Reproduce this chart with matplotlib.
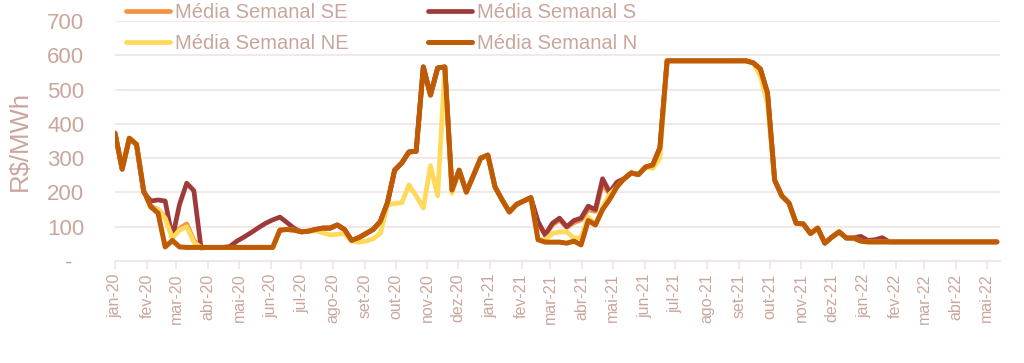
import matplotlib.pyplot as plt
from pandas import date_range, Timestamp

# weekly averages (R$/MWh), one value per week from 2020-01-01
weeks = date_range("2020-01-01", periods=124, freq="7D")

media_se = ([373, 268, 358, 340, 205, 160, 150, 128, 72, 95, 108, 60]
            + [39.68] * 11
            + [90, 92, 90, 85, 87, 92, 96, 96, 105, 92,
               60, 68, 80, 92, 115, 170, 265, 286, 318, 320,
               566, 484, 563, 566, 207, 265, 201, 250, 300, 309,
               216, 178, 143, 165, 175, 185]
            + [110, 75, 105, 120, 98, 112, 120, 150, 145, 225, 195, 225, 238]
            + [257, 252, 274, 280, 330]
            + [583.88] * 12
            + [578, 560, 490, 236, 190, 169, 110, 108, 80, 96,
               52, 70, 85, 67, 67, 58]
            + [55.70] * 19)

media_s = ([373, 268, 358, 340, 200, 175, 178, 175, 67, 165, 227, 205, 38]
           + [39.68] * 3
           + [42, 58, 70, 83, 97, 110, 120, 128, 112, 95]
           + [85, 87, 92, 96, 96, 105, 92, 60, 68, 80,
              92, 115, 170, 265, 286, 318, 320, 566, 484, 563,
              566, 207, 265, 201, 250, 300, 309, 216, 178, 143,
              165, 175, 185]
           + [115, 76, 110, 125, 100, 118, 125, 160, 150, 240, 200, 230, 240]
           + [257, 252, 274, 280, 330]
           + [583.88] * 12
           + [578, 560, 490, 236, 190, 169, 110, 108, 80, 96,
              52, 70, 85, 67, 67]
           + [72, 60, 62, 68]
           + [55.70] * 16)

media_ne = ([373, 268, 358, 340, 205, 155, 150, 125, 67, 90, 100, 55]
            + [39.68] * 11
            + [90, 92, 90, 85, 87]
            + [88, 82, 76, 78, 80, 58, 55, 58, 65, 80,
               163, 168, 170, 222, 190, 155, 278, 190, 566, 198]
            + [265, 201, 250, 300, 309, 216, 178, 143, 165, 175, 185]
            + [62, 62, 80, 85, 85, 67, 68, 128, 105, 157, 195]
            + [216, 240, 257, 252, 274, 270, 300]
            + [583.88] * 12
            + [578, 540, 460, 236, 190, 169, 110, 108, 80, 96,
               52, 70, 85, 67, 67, 58]
            + [55.70] * 19)

media_n = ([373, 268, 358, 340, 205, 158, 140, 41, 60, 41]
           + [39.68] * 13
           + [90, 92, 90, 85, 87, 92, 96, 96, 105, 92,
              60, 68, 80, 92, 115, 170, 265, 286, 318, 320,
              566, 484, 563, 566, 207, 265, 201, 250, 300, 309,
              216, 178, 143, 165, 175, 185, 62, 55, 55, 55,
              52, 58, 47, 118, 105, 150, 180, 216, 240, 257,
              252, 274, 280, 330]
           + [583.88] * 12
           + [578, 560, 490, 236, 190, 169, 110, 108, 80, 96,
              52, 70, 85, 67, 67, 58]
           + [55.70] * 19)

month_labels = ["jan-20", "fev-20", "mar-20", "abr-20", "mai-20", "jun-20",
                "jul-20", "ago-20", "set-20", "out-20", "nov-20", "dez-20",
                "jan-21", "fev-21", "mar-21", "abr-21", "mai-21", "jun-21",
                "jul-21", "ago-21", "set-21", "out-21", "nov-21", "dez-21",
                "jan-22", "fev-22", "mar-22", "abr-22", "mai-22"]
y_ticks = [0, 100, 200, 300, 400, 500, 600, 700]
y_labels = ["-  ", "100", "200", "300", "400", "500", "600", "700"]

text_color = "#C9A69D"
grid_color = "#F0E4E4"

plt.rcParams["font.family"] = ["Liberation Sans", "DejaVu Sans"]

fig = plt.figure(figsize=(10.24, 3.63), dpi=100)
ax = fig.add_axes([115 / 1024, 1 - 261 / 363, 885 / 1024, 240 / 363])

series = [(media_se, "Média Semanal SE", "#F7913F", 3.4),
          (media_s, "Média Semanal S", "#9E3B3A", 3.4),
          (media_ne, "Média Semanal NE", "#FFD95A", 3.4),
          (media_n, "Média Semanal N", "#BF5A05", 3.6)]
lines = {}
for values, label, color, lw in series:
    lines[label], = ax.plot(weeks, values, color=color, lw=lw, label=label,
                            solid_joinstyle="round", solid_capstyle="round")

ax.set_ylim(0, 700)
ax.set_xlim(Timestamp("2020-01-01"), Timestamp("2022-05-14"))
ax.set_yticks(y_ticks)
ax.set_yticklabels(y_labels)
month_ticks = date_range("2020-01-01", periods=len(month_labels), freq="MS")
ax.set_xticks(month_ticks)
ax.set_xticklabels(month_labels, rotation=90)

ax.grid(axis="y", color=grid_color, lw=1.2)
ax.set_axisbelow(True)
for side in ["left", "right", "top"]:
    ax.spines[side].set_visible(False)
ax.spines["bottom"].set_color(grid_color)
ax.spines["bottom"].set_linewidth(1.2)
ax.tick_params(axis="y", length=0, pad=22, labelsize=16, labelcolor=text_color)
ax.tick_params(axis="x", length=6, width=1.2, color=grid_color, pad=3,
               labelsize=11.5, labelcolor=text_color)

fig.text(20 / 1024, 1 - 141 / 363, "R$/MWh", rotation=90, fontsize=18.5,
         color=text_color, ha="center", va="center")

# legend fills by column: SE/NE in the first, S/N in the second
order = ["Média Semanal SE", "Média Semanal NE",
         "Média Semanal S", "Média Semanal N"]
fig.legend([lines[k] for k in order], order,
           loc="upper left", bbox_to_anchor=(126 / 1024, 1 - 3 / 363),
           ncol=2, frameon=False, fontsize=14.5, labelcolor=text_color,
           handlelength=2.2, handletextpad=0.25, columnspacing=3.9,
           labelspacing=0.6, borderpad=0, borderaxespad=0)

fig.savefig("out.png", dpi=100)
plt.close(fig)
